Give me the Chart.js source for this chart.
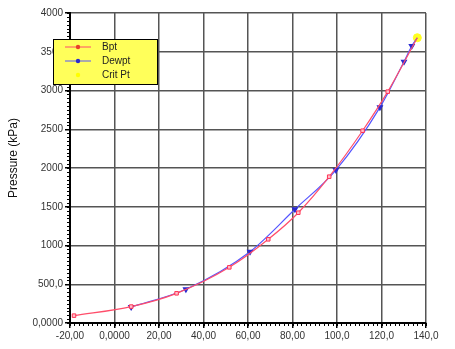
<!DOCTYPE html>
<html>
<head>
<meta charset="utf-8">
<script src="https://cdn.jsdelivr.net/npm/chart.js@4.4.1/dist/chart.umd.min.js"></script>
<style>
  html, body { margin: 0; padding: 0; background: #fff; }
  #wrap { width: 455px; height: 349px; }
</style>
</head>
<body>
<div id="wrap"><canvas id="pt_chart" width="455" height="349"></canvas></div>
<script>
// bubble point curve (temperature C, pressure kPa)
const bptTemp = [-18.2, 7.5, 27.9, 51.6, 69.1, 82.6, 96.5, 111.5, 122.8, 136.1];
const bptPres = [95, 212, 383, 718, 1080, 1423, 1888, 2481, 2985, 3681];
// dew point curve
const dewTemp = [7.5, 32.1, 60.9, 81.1, 99.5, 119.3, 130.1, 133.6, 136.1];
const dewPres = [205, 435, 920, 1467, 1974, 2783, 3372, 3574, 3681];
// critical point
const critTemp = [136.1];
const critPres = [3681];

const xTickLabels = ["-20,00", "0,0000", "20,00", "40,00", "60,00", "80,00", "100,0", "120,0", "140,0"];
const yTickLabels = ["0,0000", "500,0", "1000", "1500", "2000", "2500", "3000", "3500", "4000"];
const yTitle = 'Pressure (kPa)';

const toPoints = (xs, ys) => xs.map((x, i) => ({ x: x, y: ys[i] }));

// last point of the bpt/dew lines runs into the crit point, no marker there
const bptRadius = bptTemp.map((t, i) => i === bptTemp.length - 1 ? 0 : 2.5);
const dewRadius = dewTemp.map((t, i) => i === dewTemp.length - 1 ? 0 : 2.8);

const minorTicks = {
    id: 'minorTicks',
    afterDraw(chart) {
        const c = chart.ctx;
        const xs = chart.scales.x, ys = chart.scales.y;
        const a = chart.chartArea;
        c.save();
        c.strokeStyle = '#000';
        c.lineWidth = 1;
        for (let v = -20; v <= 140; v += 2) {
            const px = Math.round(xs.getPixelForValue(v)) + 0.5;
            c.beginPath();
            c.moveTo(px, a.bottom);
            c.lineTo(px, a.bottom + 3);
            c.stroke();
        }
        for (let v = 0; v <= 4000; v += 50) {
            const py = Math.round(ys.getPixelForValue(v)) + 0.5;
            c.beginPath();
            c.moveTo(a.left - 3, py);
            c.lineTo(a.left, py);
            c.stroke();
        }
        // y axis title, a bit above the centre like the original
        c.translate(14, 158);
        c.rotate(-Math.PI / 2);
        c.fillStyle = '#111';
        c.font = '12px "Liberation Sans", Arial, sans-serif';
        c.textAlign = 'center';
        c.textBaseline = 'middle';
        c.fillText(yTitle, 0, 0);
        c.restore();
    }
};

const boxLegend = {
    id: 'boxLegend',
    afterDraw(chart) {
        const c = chart.ctx;
        const x0 = 53, y0 = 39, w = 104, h = 45;
        c.save();
        c.fillStyle = '#ffff5a';
        c.fillRect(x0, y0, w, h);
        c.strokeStyle = '#000';
        c.lineWidth = 1;
        c.strokeRect(x0 + 0.5, y0 + 0.5, w, h);
        c.font = '10px "Liberation Sans", Arial, sans-serif';
        c.textBaseline = 'middle';
        chart.data.datasets.forEach((ds, i) => {
            const y = y0 + 8 + i * 14;
            if (ds.showLine) {
                c.strokeStyle = ds.borderColor;
                c.lineWidth = 1;
                c.beginPath();
                c.moveTo(x0 + 12, y);
                c.lineTo(x0 + 38, y);
                c.stroke();
            }
            c.fillStyle = ds.legendDot;
            c.beginPath();
            c.arc(x0 + 25, y, 2.2, 0, Math.PI * 2);
            c.fill();
            c.fillStyle = '#222';
            c.fillText(ds.label, x0 + 49, y);
        });
        c.restore();
    }
};

const ctx = document.getElementById('pt_chart').getContext('2d');
new Chart(ctx, {
    type: 'scatter',
    data: {
        datasets: [
            {
                label: 'Bpt',
                data: toPoints(bptTemp, bptPres),
                showLine: true,
                borderColor: '#ff4d6a',
                borderWidth: 1.2,
                pointStyle: 'rect',
                pointRadius: bptRadius,
                pointBackgroundColor: '#ffc0ca',
                pointBorderColor: '#ff3355',
                pointBorderWidth: 1,
                legendDot: '#e8402a',
                cubicInterpolationMode: 'monotone'
            },
            {
                label: 'Dewpt',
                data: toPoints(dewTemp, dewPres),
                showLine: true,
                borderColor: '#5555ff',
                borderWidth: 1.2,
                pointStyle: 'triangle',
                rotation: 180,
                pointRadius: dewRadius,
                pointBackgroundColor: '#2a2ad0',
                pointBorderColor: '#2a2ad0',
                legendDot: '#2a2ad0',
                cubicInterpolationMode: 'monotone'
            },
            {
                label: 'Crit Pt',
                data: toPoints(critTemp, critPres),
                showLine: false,
                borderColor: '#ffff00',
                pointStyle: 'circle',
                pointRadius: 4,
                pointBackgroundColor: '#ffff20',
                pointBorderColor: '#ffff20',
                legendDot: '#ffff00'
            }
        ]
    },
    options: {
        responsive: false,
        animation: false,
        layout: { padding: { top: 13, right: 29, left: 0, bottom: 0 } },
        plugins: {
            legend: { display: false },
            tooltip: { enabled: false }
        },
        scales: {
            x: {
                type: 'linear',
                min: -20, max: 140,
                afterFit: (s) => { s.height = 26; },
                ticks: {
                    stepSize: 20,
                    color: '#333',
                    font: { size: 10, family: '"Liberation Sans", Arial, sans-serif' },
                    maxRotation: 0,
                    padding: 2,
                    callback: (v) => xTickLabels[Math.round((v + 20) / 20)]
                },
                grid: { color: '#555', lineWidth: 1.5, tickColor: '#000', tickLength: 5 },
                border: { color: '#000', width: 2 }
            },
            y: {
                type: 'linear',
                min: 0, max: 4000,
                afterFit: (s) => { s.width = 70; },
                ticks: {
                    stepSize: 500,
                    color: '#333',
                    font: { size: 10, family: '"Liberation Sans", Arial, sans-serif' },
                    padding: 2,
                    callback: (v) => yTickLabels[Math.round(v / 500)]
                },
                grid: { color: '#555', lineWidth: 1.5, tickColor: '#000', tickLength: 5 },
                border: { color: '#000', width: 2 }
            }
        }
    },
    plugins: [minorTicks, boxLegend]
});
</script>
</body>
</html>
